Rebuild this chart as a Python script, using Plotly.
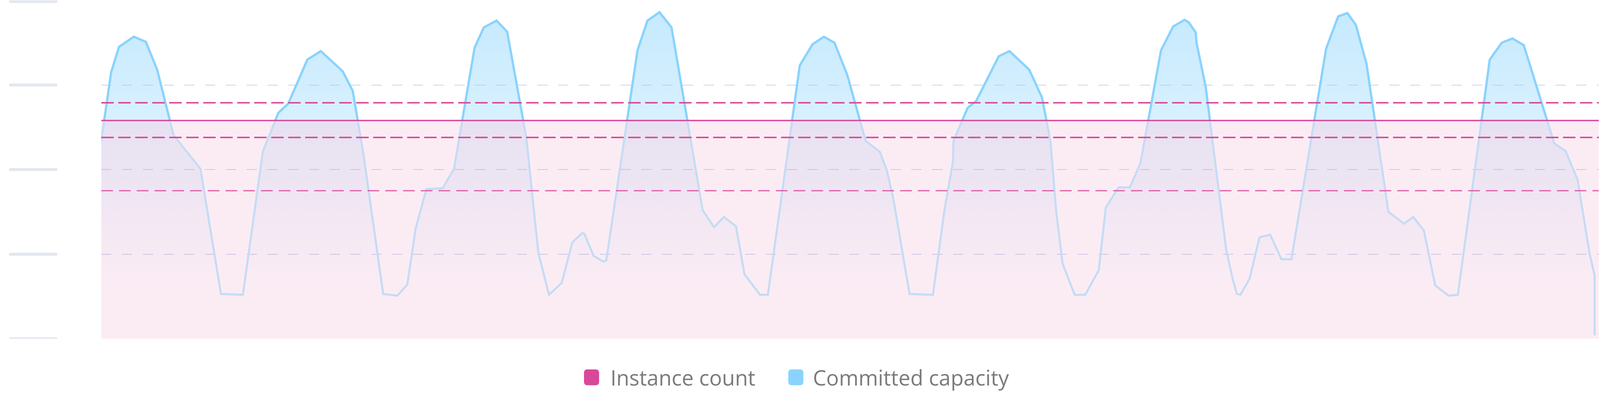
import plotly.graph_objects as go

# ---------------- data ----------------
hours = [0.0, 1.4, 2.5, 4.6, 6.3, 7.9, 10.2, 14.0, 16.9, 20.0,
         22.8, 25.0, 26.4, 29.1, 31.0, 34.1, 35.5, 37.0, 39.8, 41.8,
         43.2, 44.4, 45.9, 48.2, 49.8, 52.7, 54.0, 55.8, 57.3, 60.0,
         61.7, 63.2, 65.0, 66.5, 67.9, 68.2, 69.5, 70.9, 71.3, 75.7,
         77.1, 78.8, 80.5, 84.9, 86.5, 87.9, 89.6, 90.8, 93.0, 94.1,
         98.6, 100.4, 102.0, 103.5, 105.3, 107.9, 109.9, 110.9, 111.8, 114.1,
         117.4, 119.0, 120.2, 120.3, 122.3, 123.5, 126.7, 128.2, 131.0, 132.8,
         134.0, 134.8, 135.7, 137.4, 138.9, 140.8, 141.8, 143.6, 145.2, 146.7,
         149.6, 151.3, 152.9, 153.5, 154.5, 154.6, 155.9, 158.8, 159.7, 160.3,
         160.8, 162.1, 163.5, 165.0, 166.6, 168.0, 172.9, 174.6, 175.9, 177.1,
         178.6, 181.7, 183.9, 185.2, 186.7, 188.3, 190.2, 191.5, 196.0, 197.7,
         199.2, 200.8, 205.1, 206.7, 208.4, 210.1, 210.8, 210.8]

committed_capacity = [23.4, 31.5, 34.5, 35.7, 35.1, 31.8, 24.1, 20.1, 5.3, 5.2,
                      22.1, 26.7, 27.8, 33.0, 34.0, 31.6, 29.3, 21.9, 5.3, 5.1,
                      6.4, 13.1, 17.7, 17.8, 20.1, 34.4, 36.8, 37.6, 36.3, 23.8,
                      10.2, 5.2, 6.6, 11.4, 12.5, 12.4, 9.8, 9.1, 9.3, 34.1,
                      37.6, 38.6, 36.8, 15.2, 13.2, 14.4, 13.3, 7.6, 5.2, 5.2,
                      32.3, 34.8, 35.7, 35.0, 31.2, 23.4, 22.1, 19.9, 16.6, 5.3,
                      5.2, 15.1, 20.8, 23.4, 27.3, 28.1, 33.4, 34.0, 31.8, 28.5,
                      23.3, 15.1, 8.9, 5.2, 5.2, 8.1, 15.5, 17.9, 17.9, 20.8,
                      34.1, 36.9, 37.7, 37.4, 36.2, 35.0, 29.8, 10.5, 7.1, 5.3,
                      5.2, 7.1, 12.0, 12.3, 9.4, 9.4, 34.3, 38.1, 38.5, 37.1,
                      32.5, 15.0, 13.6, 14.4, 12.8, 6.3, 5.1, 5.2, 33.0, 35.0,
                      35.5, 34.7, 23.1, 22.2, 18.8, 10.0, 7.5, 0.4]

instance_count = 25.8
band_upper = 27.9
band_lower = 23.8
floor_level = 17.5
y_ticks = [0, 10, 20, 30, 40]
x_range = [0.0, 211.4]
y_range = [0, 40]
legend_labels = ["Instance count", "Committed capacity"]

# ---------------- styles ----------------
PINK = "#d9479b"
BLUE_BRIGHT = "#8ad3fd"
BLUE_PALE = "#c5dcf4"
GRID = "#c9d5ec"
SKELETON = "#e2e8ef"
LEGEND_TEXT = "#7b7b7b"
FIG_W, FIG_H = 4236, 1042

# split the series where it crosses the instance-count level (zone boundary)
xs, ys = [hours[0]], [committed_capacity[0]]
for i in range(1, len(hours)):
    x0, y0 = hours[i - 1], committed_capacity[i - 1]
    x1, y1 = hours[i], committed_capacity[i]
    if (y0 - instance_count) * (y1 - instance_count) < 0:
        t = (instance_count - y0) / (y1 - y0)
        xs.append(x0 + t * (x1 - x0))
        ys.append(instance_count)
    xs.append(x1)
    ys.append(y1)

upper_part = [max(v, instance_count) for v in ys]
lower_part = [min(v, instance_count) for v in ys]
above_only = [v if v >= instance_count else None for v in ys]

fig = go.Figure()

# baseline for the upper zone fill
fig.add_trace(go.Scatter(x=xs, y=[instance_count] * len(xs), mode="lines",
                         line=dict(width=0, color="rgba(0,0,0,0)"),
                         showlegend=False, hoverinfo="skip"))
# upper zone fill (strong blue gradient)
fig.add_trace(go.Scatter(x=xs, y=upper_part, mode="lines", fill="tonexty",
                         line=dict(width=0, color="rgba(0,0,0,0)"),
                         fillgradient=dict(type="vertical", start=instance_count, stop=y_range[1],
                                           colorscale=[[0, "rgba(137,211,253,0.33)"],
                                                       [1, "rgba(137,211,253,0.50)"]]),
                         showlegend=False, hoverinfo="skip"))
# lower zone fill (weak blue gradient)
fig.add_trace(go.Scatter(x=xs, y=lower_part, mode="lines", fill="tozeroy",
                         line=dict(width=0, color="rgba(0,0,0,0)"),
                         fillgradient=dict(type="vertical", start=0, stop=instance_count,
                                           colorscale=[[0, "rgba(150,200,245,0.0)"],
                                                       [0.25, "rgba(150,200,245,0.0)"],
                                                       [1, "rgba(150,200,245,0.22)"]]),
                         showlegend=False, hoverinfo="skip"))
# instance count area
fig.add_trace(go.Scatter(x=x_range, y=[instance_count, instance_count], mode="lines",
                         fill="tozeroy", fillcolor="rgba(220,70,150,0.10)",
                         line=dict(width=0, color="rgba(0,0,0,0)"),
                         showlegend=False, hoverinfo="skip"))
# committed capacity lines
fig.add_trace(go.Scatter(x=xs, y=ys, mode="lines",
                         line=dict(width=5.5, color=BLUE_PALE),
                         name=legend_labels[1], showlegend=False))
fig.add_trace(go.Scatter(x=xs, y=above_only, mode="lines", connectgaps=False,
                         line=dict(width=6, color=BLUE_BRIGHT),
                         showlegend=False, hoverinfo="skip"))
# instance count lines
for level, w, dash, op in [(band_upper, 3.8, "33px,12px", 1.0),
                           (band_lower, 3.8, "33px,12px", 1.0),
                           (floor_level, 3.2, "31px,16px", 0.85)]:
    fig.add_trace(go.Scatter(x=x_range, y=[level, level], mode="lines", opacity=op,
                             line=dict(width=w, color=PINK, dash=dash),
                             showlegend=False, hoverinfo="skip"))
fig.add_trace(go.Scatter(x=x_range, y=[instance_count, instance_count], mode="lines",
                         line=dict(width=3.5, color=PINK),
                         name=legend_labels[0], showlegend=False))

# skeleton tick labels (rounded grey bars in place of tick text)
shapes = []
for v in y_ticks:
    off = -3 if v == y_range[1] else 0
    lo, hi = off - 4, off + 4
    path = (f"M -240,{lo} L -120,{lo} Q -116,{lo} -116,{off} Q -116,{hi} -120,{hi} "
            f"L -240,{hi} Q -244,{hi} -244,{off} Q -244,{lo} -240,{lo} Z")
    shapes.append(dict(type="path", xref="paper", yref="y", xsizemode="pixel", ysizemode="pixel",
                       xanchor=0, yanchor=v, path=path,
                       fillcolor=SKELETON, line=dict(width=0)))

# custom legend (rounded squares + labels)
legend_items = [(legend_labels[0], PINK, 0.3274, 0.3395),
                (legend_labels[1], BLUE_BRIGHT, 0.4638, 0.4747)]
annotations = []
for label, col, xs_c, xt in legend_items:
    shapes.append(dict(type="path", xref="paper", yref="paper", xsizemode="pixel", ysizemode="pixel",
                       xanchor=xs_c, yanchor=-0.1138,
                       path="M -11,-21 L 11,-21 Q 20,-21 20,-12 L 20,12 Q 20,21 11,21 "
                            "L -11,21 Q -20,21 -20,12 L -20,-12 Q -20,-21 -11,-21 Z",
                       fillcolor=col, line=dict(width=0)))
    annotations.append(dict(text=label, xref="paper", yref="paper", x=xt, y=-0.1138,
                            xanchor="left", yanchor="middle", showarrow=False,
                            font=dict(family="Open Sans", size=56, color=LEGEND_TEXT)))

fig.update_layout(
    width=FIG_W, height=FIG_H,
    margin=dict(l=268, r=3, t=1, b=145),
    paper_bgcolor="white", plot_bgcolor="white",
    showlegend=False,
    shapes=shapes, annotations=annotations,
    xaxis=dict(range=x_range, showgrid=False, zeroline=False, showline=False,
               showticklabels=False, ticks=""),
    yaxis=dict(range=y_range, tickvals=y_ticks, showticklabels=False, ticks="",
               showgrid=True, gridcolor=GRID, gridwidth=2, griddash="27px,28px",
               zeroline=False, showline=False),
)

post = (
    "document.documentElement.style.margin='0';"
    "document.body.style.margin='0';"
    "document.body.style.overflow='hidden';"
    "var gd=document.getElementById('{plot_id}');"
    f"var s=Math.min(window.innerWidth/{FIG_W}, window.innerHeight/{FIG_H});"
    "if(Math.abs(s-1)>0.002){gd.style.transformOrigin='0 0';gd.style.transform='scale('+s+')';}"
)
fig.write_html("out.html", config={"displayModeBar": False}, post_script=post)
